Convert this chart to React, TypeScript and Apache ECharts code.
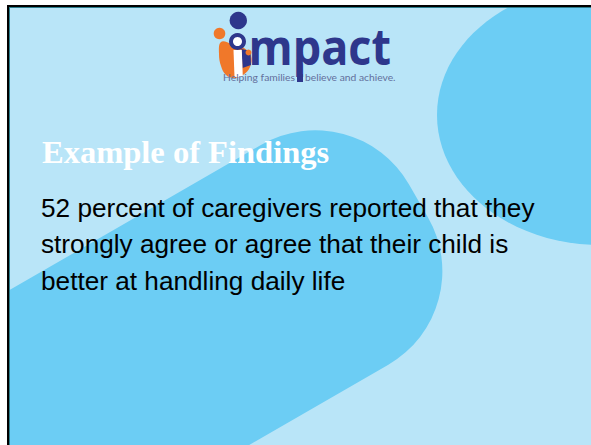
import React, { useEffect, useRef } from "react";
import * as echarts from "echarts";

// ---- content ----
const titleText = "Example of Findings";
const bodyLines = [
  "52 percent of caregivers reported that they",
  "strongly agree or agree that their child is",
  "better at handling daily life",
];
const logoWord = "mpact";
const taglineParts = ["Helping families", "believe and achieve."];

const W = 591;
const H = 445;
const LIGHT = "#b9e5f8";
const DARK = "#6ccdf4";
const NAVY = "#2e378c";
const ORANGE = "#f0782a";
const TAG = "#636f9c";

function txt(text: string, x: number, y: number, size: number, family: string, weight: string, fill: string, extra: any = {}) {
  return {
    type: "text",
    x,
    y,
    z: 10,
    ...extra,
    style: {
      text,
      fill,
      fontSize: size,
      fontFamily: family,
      fontWeight: weight,
      align: "left",
      verticalAlign: "middle",
      textAlign: "left",
      textVerticalAlign: "middle",
    },
  };
}

export default function App() {
  const ref = useRef<HTMLDivElement>(null);
  useEffect(() => {
    const chart = echarts.init(ref.current!, null, { renderer: "svg" });
    const el: any[] = [];
    // slide background
    el.push({ type: "rect", z: 0, shape: { x: 0, y: 0, width: W, height: H }, style: { fill: LIGHT } });
    // diagonal rounded band from bottom-left
    el.push({
      type: "rect",
      z: 1,
      x: 0,
      y: 0,
      rotation: Math.PI / 6,
      shape: { x: -700, y: 256, width: 962, height: 254, r: [0, 108, 108, 0] },
      style: { fill: DARK },
    });
    // ellipse top-right
    el.push({ type: "ellipse", z: 1, shape: { cx: 600, cy: 115, rx: 163, ry: 130 }, style: { fill: DARK } });

    // border overlays
    el.push({ type: "rect", z: 20, shape: { x: 0, y: 0, width: W, height: 5 }, style: { fill: "#ffffff" } });
    el.push({ type: "rect", z: 20, shape: { x: 0, y: 0, width: 7, height: H }, style: { fill: "#ffffff" } });
    el.push({ type: "rect", z: 21, shape: { x: 7, y: 5, width: W, height: 2 }, style: { fill: "#000000" } });
    el.push({ type: "rect", z: 21, shape: { x: 7, y: 5, width: 2, height: H }, style: { fill: "#000000" } });
    el.push({ type: "rect", z: 21, shape: { x: 9, y: 7, width: W, height: 1 }, style: { fill: "#2a7d8c" } });
    el.push({ type: "rect", z: 21, shape: { x: 9, y: 7, width: 1, height: H }, style: { fill: "#2a7d8c" } });

    // logo figure
    el.push({
      type: "polygon",
      z: 5,
      shape: {
        points: [[221, 42], [232, 44], [244, 48], [251, 56], [250, 67], [243, 75], [234, 78], [226, 75], [221, 66], [219, 54]],
        smooth: 0.4,
      },
      style: { fill: ORANGE },
    });
    el.push({ type: "polygon", z: 6, shape: { points: [[241.5, 49], [250.5, 51], [251, 65], [242.5, 68]] }, style: { fill: NAVY } });
    el.push({ type: "polygon", z: 6, shape: { points: [[233.5, 50], [241.8, 50], [242.8, 77], [234.5, 77]] }, style: { fill: "#ffffff" } });
    el.push({ type: "circle", z: 6, shape: { cx: 237.5, cy: 41.5, r: 8.5 }, style: { fill: NAVY } });
    el.push({ type: "circle", z: 7, shape: { cx: 237.5, cy: 41.5, r: 4.5 }, style: { fill: "#ffffff" } });
    el.push({ type: "circle", z: 7, shape: { cx: 248.5, cy: 52.5, r: 3 }, style: { fill: ORANGE } });
    el.push({ type: "circle", z: 7, shape: { cx: 219.5, cy: 33.5, r: 5.8 }, style: { fill: ORANGE } });
    el.push({ type: "circle", z: 7, shape: { cx: 238.3, cy: 20.5, r: 8.7 }, style: { fill: NAVY } });

    // logo word
    el.push(txt(logoWord, 248.5, 45.6, 50, "'Open Sans'", "bold", NAVY, { scaleX: 0.9 }));
    // tagline
    el.push(txt(taglineParts[0], 223, 77, 10.3, "Lato", "normal", TAG));
    el.push({ type: "rect", z: 10, shape: { x: 297, y: 74, width: 6, height: 8 }, style: { fill: NAVY } });
    el.push(txt(taglineParts[1], 305, 77, 10.3, "Lato", "normal", TAG));

    // title
    el.push(txt(titleText, 42, 152.1, 32.5, "'Liberation Serif'", "bold", "#ffffff"));
    // body
    const baselines = [216.7, 253.3, 290];
    bodyLines.forEach((line, i) => {
      el.push(txt(line, 41, baselines[i] - 9.1, 26.2, "'Liberation Sans'", "normal", "#000000"));
    });

    chart.setOption({
      animation: false,
      backgroundColor: "#ffffff",
      graphic: { elements: el },
    });
    return () => chart.dispose();
  }, []);
  return <div ref={ref} style={{ position: "absolute", left: 0, top: 0, width: W, height: H }} />;
}
